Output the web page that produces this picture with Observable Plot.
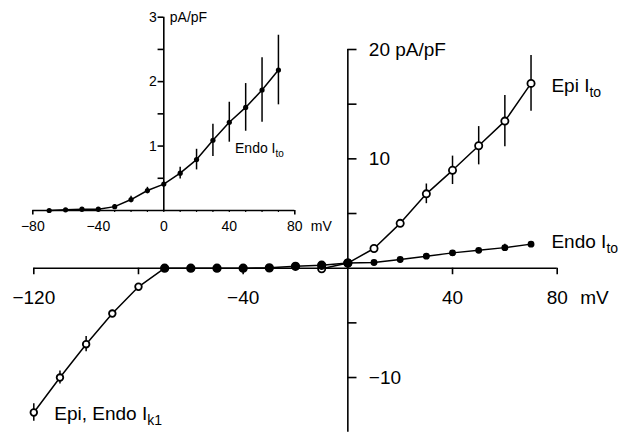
<!DOCTYPE html>
<html><head><meta charset="utf-8">
<script src="https://cdn.jsdelivr.net/npm/d3@7"></script>
<script src="https://cdn.jsdelivr.net/npm/@observablehq/plot@0.6"></script>
<style>
body{margin:0;background:#fff;}
#wrap{position:relative;width:622px;height:432px;overflow:hidden;}
#wrap svg{position:absolute;left:0;top:0;background:transparent !important;}
</style></head><body><div id="wrap"></div>
<script>
// ---- Main chart data (mV, pA/pF) ----
const ik1Volt = [-120, -110, -100, -90, -80, -70];
const ik1Val  = [-13.2, -10.0, -6.95, -4.15, -1.7, 0];
const ik1Err  = [0.8, 0.6, 0.7, 0.3, 0.2, 0];

const endoVolt = [-70, -60, -50, -40, -30, -20, -10, 0, 10, 20, 30, 40, 50, 60, 70];
const endoVal  = [0, 0, 0, 0, 0.03, 0.17, 0.27, 0.47, 0.52, 0.8, 1.1, 1.4, 1.63, 1.88, 2.2];
const endoErr  = [0, 0, 0, 0.1, 0, 0, 0, 0, 0.05, 0.1, 0.1, 0.15, 0.15, 0.3, 0.2];

const epiVolt = [-10, 0, 10, 20, 30, 40, 50, 60, 70];
const epiVal  = [-0.05, 0.47, 1.8, 4.1, 6.8, 8.95, 11.2, 13.45, 16.9];
const epiErr  = [0, 0, 0.15, 0.3, 0.9, 1.3, 1.75, 2.35, 2.55];

const mainXTicks  = [-120, -80, -40, 40, 80];
const mainXLabels = [-120, -40, 40, 80];
const mainYTicks  = [-10, -5, 5, 10, 15, 20];
const mainYLabels = [-10, 10, 20];

// ---- Inset data (Endo Ito, enlarged) ----
const insetVolt = [-70, -60, -50, -40, -30, -20, -10, 0, 10, 20, 30, 40, 50, 60, 70];
const insetVal  = [0, 0.01, 0.02, 0.02, 0.06, 0.17, 0.31, 0.41, 0.58, 0.79, 1.09, 1.37, 1.6, 1.87, 2.18];
const insetErr  = [0, 0, 0, 0, 0.03, 0.05, 0.05, 0.02, 0.09, 0.16, 0.25, 0.31, 0.37, 0.5, 0.54];
const insetXMinor  = [-70, -60, -50, -40, -30, -20, -10, 0, 10, 20, 30, 40, 50, 60, 70];
const insetXLabels = [-80, -40, 0, 40, 80];
const insetYTicks  = [0.5, 1, 1.5, 2, 2.5, 3];
const insetYLabels = [1, 2, 3];

const fmt = d => d < 0 ? "\u2212" + Math.abs(d) : String(d);
const FONT = "'Liberation Sans', Arial, Helvetica, sans-serif";

const ik1 = ik1Volt.map((v, i) => ({v, y: ik1Val[i], e: ik1Err[i]}));
const endo = endoVolt.map((v, i) => ({v, y: endoVal[i], e: endoErr[i]}));
const epi = epiVolt.map((v, i) => ({v, y: epiVal[i], e: epiErr[i]}));
const ins = insetVolt.map((v, i) => ({v, y: insetVal[i], e: insetErr[i]}));

const main = Plot.plot({
  width: 622, height: 432,
  marginLeft: 33.3, marginRight: 65.3, marginTop: 49, marginBottom: 0.3,
  style: {fontFamily: FONT, background: "transparent", overflow: "visible"},
  x: {domain: [-120, 80], axis: null},
  y: {domain: [-15, 20], axis: null},
  r: {type: "identity"},
  marks: [
    Plot.ruleY([0], {x1: -120, x2: 80, strokeWidth: 1.6}),
    Plot.ruleX([0], {y1: -15, y2: 20, strokeWidth: 1.6}),
    Plot.ruleX(mainXTicks, {x: d => d, y1: 0, y2: -0.6, strokeWidth: 1.6}),
    Plot.ruleY(mainYTicks, {y: d => d, x1: 0, x2: 3.5, strokeWidth: 1.6}),
    Plot.text(mainXLabels, {x: d => d, y: 0, dy: 30, text: fmt, fontSize: 19}),
    Plot.text(["mV"], {x: 80, y: 0, dy: 30, dx: 23, textAnchor: "start", fontSize: 19}),
    Plot.text(mainYLabels, {x: 0, y: d => d, dx: 21, textAnchor: "start", fontSize: 19,
      text: d => d === 20 ? "20 pA/pF" : fmt(d)}),
    // series lines
    Plot.line([...ik1, ...endo], {x: "v", y: "y", strokeWidth: 1.5}),
    Plot.line(epi, {x: "v", y: "y", strokeWidth: 1.5}),
    // error bars
    Plot.ruleX(ik1.filter(d => d.e > 0), {x: "v", y1: d => d.y - d.e, y2: d => d.y + d.e, strokeWidth: 1.5}),
    Plot.ruleX(endo.filter(d => d.e > 0), {x: "v", y1: d => d.y - d.e, y2: d => d.y + d.e, strokeWidth: 1.5}),
    Plot.ruleX(epi.filter(d => d.e > 0), {x: "v", y1: d => d.y - d.e, y2: d => d.y + d.e, strokeWidth: 1.5}),
    // markers
    Plot.dot(ik1.slice(0, 5), {x: "v", y: "y", r: 3.3, fill: "white", stroke: "black", strokeWidth: 1.8}),
    Plot.dot(epi, {x: "v", y: "y", r: 3.6, fill: "white", stroke: "black", strokeWidth: 1.8}),
    Plot.dot(endo, {x: "v", y: "y", r: d => d.v <= 0 ? 3.9 : 2.7, fill: "black", stroke: "black"}),
    // series labels
    Plot.text(["Epi I_to"], {x: 77.8, y: 16.7, textAnchor: "start", fontSize: 19}),
    Plot.text(["Endo I_to"], {x: 77.8, y: 2.4, textAnchor: "start", fontSize: 19}),
    Plot.text(["Epi, Endo I_k1"], {x: -112.2, y: -13.3, textAnchor: "start", fontSize: 19})
  ]
});

const inset = Plot.plot({
  width: 340, height: 236,
  marginLeft: 32.3, marginRight: 45.7, marginTop: 16.7, marginBottom: 26,
  style: {fontFamily: FONT, background: "transparent", overflow: "visible"},
  x: {domain: [-80, 80], axis: null},
  y: {domain: [0, 3], axis: null},
  marks: [
    Plot.ruleY([0], {x1: -80, x2: 80, strokeWidth: 1.6}),
    Plot.ruleX([0], {y1: 0, y2: 3, strokeWidth: 1.6}),
    Plot.ruleX([-80, 80], {x: d => d, y1: 0, y2: -0.07, strokeWidth: 1.6}),
    Plot.ruleX(insetXMinor, {x: d => d, y1: 0, y2: -0.03, strokeWidth: 1.2}),
    Plot.ruleY(insetYTicks, {y: d => d, x1: 0, x2: -3.5, strokeWidth: 1.6}),
    Plot.text(insetXLabels, {x: d => d, y: 0, dy: 16, text: fmt, fontSize: 14}),
    Plot.text(["mV"], {x: 80, y: 0, dy: 16, dx: 16, textAnchor: "start", fontSize: 14}),
    Plot.text(insetYLabels, {x: 0, y: d => d, dx: -7, textAnchor: "end", fontSize: 14, text: fmt}),
    Plot.text(["pA/pF"], {x: 0, y: 3, dx: 6, textAnchor: "start", fontSize: 14}),
    Plot.line(ins, {x: "v", y: "y", strokeWidth: 1.5}),
    Plot.ruleX(ins.filter(d => d.e > 0), {x: "v", y1: d => d.y - d.e, y2: d => d.y + d.e, strokeWidth: 1.5}),
    Plot.dot(ins, {x: "v", y: "y", r: 2.6, fill: "black"}),
    Plot.text(["Endo I_to"], {x: 43.5, y: 0.96, textAnchor: "start", fontSize: 14})
  ]
});

function addSubs(svg, subSize, shift) {
  svg.querySelectorAll("text").forEach(t => {
    const s = t.textContent;
    if (!s.includes("_")) return;
    const [a, b] = s.split("_");
    while (t.firstChild) t.removeChild(t.firstChild);
    const ns = "http://www.w3.org/2000/svg";
    const t1 = document.createElementNS(ns, "tspan");
    t1.textContent = a;
    const t2 = document.createElementNS(ns, "tspan");
    t2.textContent = b;
    t2.setAttribute("font-size", subSize);
    t2.setAttribute("dy", shift);
    t.appendChild(t1); t.appendChild(t2);
  });
}
addSubs(main, 14, 5);
addSubs(inset, 10, 4);

const wrap = document.getElementById("wrap");
wrap.appendChild(main);
wrap.appendChild(inset);
</script></body></html>
